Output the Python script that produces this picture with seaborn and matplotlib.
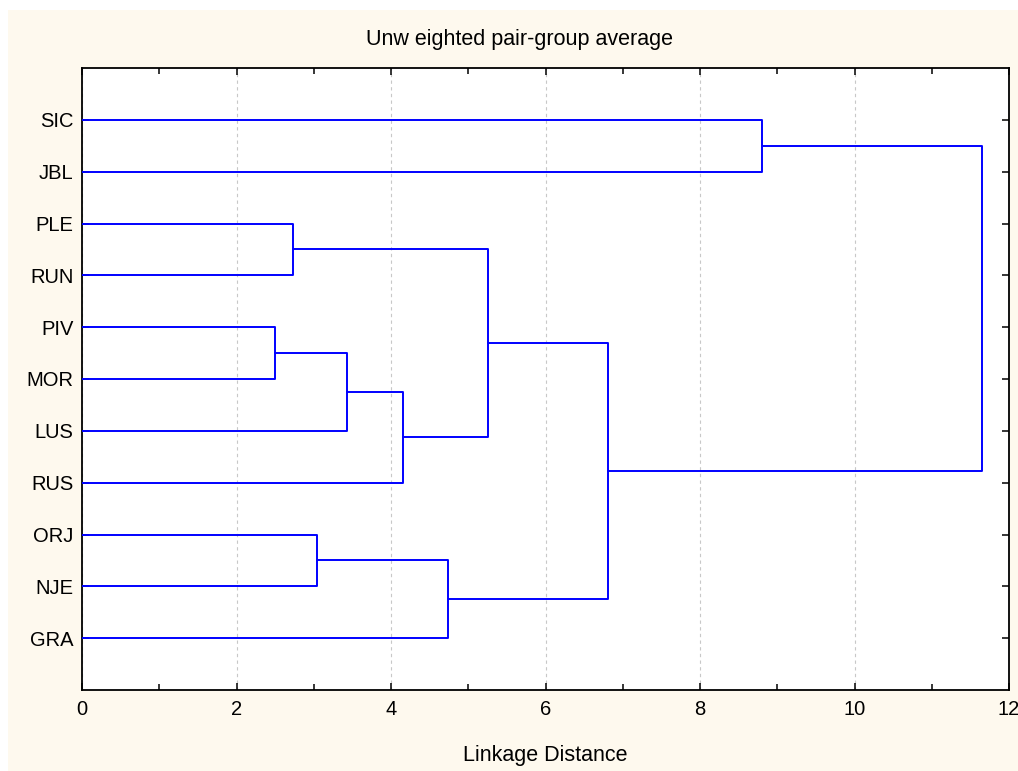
import matplotlib
matplotlib.use("Agg")
import matplotlib.pyplot as plt
from matplotlib.patches import Rectangle
from matplotlib.ticker import MultipleLocator
import seaborn as sns
import pandas as pd

# ---- data ----
leaf_labels = ["SIC", "JBL", "PLE", "RUN", "PIV", "MOR", "LUS", "RUS", "ORJ", "NJE", "GRA"]
# merges: (left child, right child, linkage distance); leaves 0..10, new clusters 11..
merge_left = [4, 2, 8, 11, 14, 13, 12, 17, 0, 19]
merge_right = [5, 3, 9, 6, 7, 10, 15, 16, 1, 18]
merge_dist = [2.50, 2.73, 3.04, 3.43, 4.16, 4.74, 5.26, 6.81, 8.80, 11.65]
x_ticks = [0, 2, 4, 6, 8, 10, 12]

title = "Unw eighted pair-group average"
xlabel = "Linkage Distance"

# ---- style ----
sns.set_style("ticks")
plt.rcParams["font.family"] = ["Liberation Sans", "DejaVu Sans"]
plt.rcParams["text.color"] = "black"
plt.rcParams["axes.labelcolor"] = "black"

W, H = 1018, 771
fig = plt.figure(figsize=(W / 100, H / 100), dpi=100)
fig.patch.set_facecolor("white")
fig.patches.append(Rectangle((8 / W, 0), 1 - 8 / W, 1 - 10 / H, transform=fig.transFigure,
                             facecolor="#FEF9EE", edgecolor="none", zorder=-10))

ax = fig.add_axes([82 / W, 1 - 690 / H, (1009 - 82) / W, (690 - 68) / H])
ax.set_facecolor("white")

# positions and heights of nodes
pos = {i: i + 1 for i in range(len(leaf_labels))}
height = {i: 0.0 for i in range(len(leaf_labels))}
n = len(leaf_labels)
for k, (a, b, d) in enumerate(zip(merge_left, merge_right, merge_dist)):
    df = pd.DataFrame({"x": [height[a], d, d, height[b]],
                       "y": [pos[a], pos[a], pos[b], pos[b]]})
    sns.lineplot(data=df, x="x", y="y", sort=False, estimator=None,
                 color="#0000FF", lw=1.4, ax=ax, zorder=3)
    pos[n + k] = (pos[a] + pos[b]) / 2
    height[n + k] = d

ax.set_xlim(0, 12)
ax.set_ylim(12, 0)
ax.set_xticks(x_ticks)
ax.set_xticklabels([str(t) for t in x_ticks], fontsize=14.5)
ax.xaxis.set_minor_locator(MultipleLocator(1))
ax.set_yticks(range(1, n + 1))
ax.set_yticklabels(leaf_labels, fontsize=14.5)
ax.set_xlabel(xlabel, fontsize=15.5, labelpad=19, color="black")
ax.set_ylabel("")

ax.xaxis.grid(True, which="major", linestyle=(0, (3, 3)), color="#c8c8c8", lw=0.8, zorder=0)
ax.yaxis.grid(False)
ax.tick_params(which="both", direction="in", top=True, right=True, width=1.1,
               colors="black", labelcolor="black")
ax.tick_params(which="major", length=5, pad=7)
ax.tick_params(axis="y", which="major", pad=6)
ax.tick_params(which="minor", length=4)
for s in ax.spines.values():
    s.set_visible(True)
    s.set_linewidth(1.3)
    s.set_color("black")

fig.text(520 / W, 1 - 40 / H, title, ha="center", va="center", fontsize=15.5, color="black")

fig.savefig("out.png", dpi=100, facecolor=fig.get_facecolor())
